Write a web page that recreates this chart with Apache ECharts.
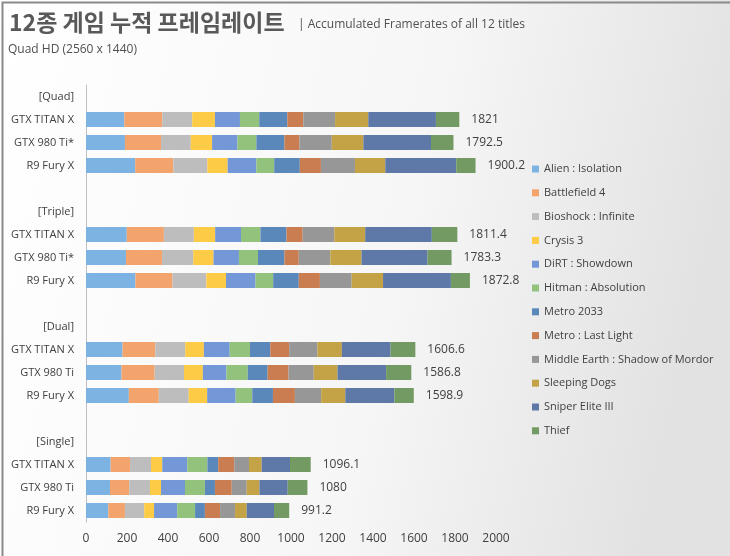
<!DOCTYPE html>
<html>
<head>
<meta charset="utf-8">
<script src="https://cdn.jsdelivr.net/npm/echarts@6/dist/echarts.min.js"></script>
<style>
html,body{margin:0;padding:0;}
#chart{width:730px;height:556px;}
</style>
</head>
<body>
<div id="chart"></div>
<script>
// ---- Data ----
var groups = ['[Quad]', '[Triple]', '[Dual]', '[Single]'];
var cardsByGroup = [
  ['GTX TITAN X', 'GTX 980 Ti*', 'R9 Fury X'],
  ['GTX TITAN X', 'GTX 980 Ti*', 'R9 Fury X'],
  ['GTX TITAN X', 'GTX 980 Ti', 'R9 Fury X'],
  ['GTX TITAN X', 'GTX 980 Ti', 'R9 Fury X']
];
var games = ['Alien : Isolation', 'Battlefield 4', 'Bioshock : Infinite', 'Crysis 3', 'DiRT : Showdown',
  'Hitman : Absolution', 'Metro 2033', 'Metro : Last Light', 'Middle Earth : Shadow of Mordor',
  'Sleeping Dogs', 'Sniper Elite III', 'Thief'];
// order of bars: Quad(TITAN X, 980 Ti*, Fury X), Triple(...), Dual(...), Single(...)
var alien     = [187, 190, 240, 199, 195, 241, 178, 173, 209, 120, 117, 109];
var bf4       = [185, 176, 186, 181, 176, 181, 160, 162, 146, 95, 94, 81];
var bioshock  = [146, 145, 166, 146, 152, 165, 146, 143, 146, 102, 101, 94];
var crysis3   = [111, 104, 99, 104, 99, 96, 91, 92, 90, 55, 54, 48];
var dirt      = [122, 124, 140, 126, 124, 144, 126, 115, 139, 122, 117, 113];
var hitman    = [94, 92, 87, 95, 93, 86, 99, 104, 81, 98, 97, 87];
var metro2033 = [137, 137, 125, 127, 129, 125, 99, 97, 101, 53, 49, 48];
var metroLL   = [78, 73, 103, 79, 70, 103, 92, 102, 107, 78, 82, 74];
var mordor    = [155, 158, 166, 154, 154, 155, 138, 123, 128, 72, 73, 73];
var sleeping  = [162, 154, 148, 151, 152, 153, 119, 116, 118, 62, 62, 57];
var sniper    = [330, 330, 346, 325, 322, 331, 238, 237, 239, 138, 138, 133];
var thief     = [114, 109.5, 94.2, 124.4, 117.3, 92.8, 120.6, 122.8, 94.9, 101.1, 96, 74.2];
var xTicks = [0, 200, 400, 600, 800, 1000, 1200, 1400, 1600, 1800, 2000];

var gameValues = [alien, bf4, bioshock, crysis3, dirt, hitman, metro2033, metroLL, mordor, sleeping, sniper, thief];
var colors = ['#7DB3E3', '#F3A46C', '#BDBDBD', '#FDCB45', '#7397D7', '#92C27C', '#5A88BB', '#C97D50',
  '#979797', '#C4A346', '#5E78A8', '#739A62'];

// ---- Build category rows (header, 3 bars, blank) ----
var rows = [];
var rowBarIndex = []; // index into value arrays or -1
var bi = 0;
groups.forEach(function (g, gi) {
  rows.push(g); rowBarIndex.push(-1);
  cardsByGroup[gi].forEach(function (c) { rows.push(c); rowBarIndex.push(bi++); });
  if (gi < groups.length - 1) { rows.push(''); rowBarIndex.push(-1); }
});
var totals = [];
for (var k = 0; k < bi; k++) {
  var s = 0;
  gameValues.forEach(function (arr) { s += arr[k]; });
  totals.push(Math.round(s * 10) / 10);
}

var series = games.map(function (name, gi) {
  var arr = gameValues[gi];
  var ser = {
    name: name,
    type: 'bar',
    stack: 'total',
    barWidth: 15,
    itemStyle: { color: colors[gi] },
    data: rowBarIndex.map(function (ix) { return ix < 0 ? '-' : arr[ix]; })
  };
  if (gi === games.length - 1) {
    ser.label = {
      show: true,
      position: 'right',
      distance: 12,
      color: '#404040',
      fontSize: 12,
      fontFamily: 'Open Sans',
      formatter: function (p) {
        var ix = rowBarIndex[p.dataIndex];
        return ix < 0 ? '' : String(totals[ix]);
      }
    };
  }
  return ser;
});

var chart = echarts.init(document.getElementById('chart'));
chart.setOption({
  animation: false,
  backgroundColor: {
    type: 'linear', x: 0, y: 0, x2: 1, y2: 0.3,
    colorStops: [{ offset: 0, color: '#ffffff' }, { offset: 0.6, color: '#f6f6f6' }, { offset: 1, color: '#e2e2e2' }]
  },
  color: colors,
  title: [
    { text: '12종 게임 누적 프레임레이트', left: 9, top: 11, padding: 0,
      textStyle: { fontFamily: 'Noto Sans CJK KR', fontWeight: 'bold', fontSize: 23, color: '#595959' } },
    { text: '| Accumulated Framerates of all 12 titles', left: 298, top: 19, padding: 0,
      textStyle: { fontFamily: 'Open Sans', fontWeight: 'normal', fontSize: 12, color: '#505050' } },
    { text: 'Quad HD (2560 x 1440)', left: 8, top: 44, padding: 0,
      textStyle: { fontFamily: 'Open Sans', fontWeight: 'normal', fontSize: 12, color: '#505050' } }
  ],
  graphic: [
    { type: 'rect', left: 0, top: 0, shape: { width: 729, height: 555 },
      style: { fill: 'none', stroke: '#8a8a8a', lineWidth: 2 }, silent: true }
  ],
  legend: {
    orient: 'vertical',
    left: 532,
    top: 162,
    padding: 0,
    itemWidth: 7,
    itemHeight: 7,
    itemGap: 9.8,
    icon: 'rect',
    data: games,
    textStyle: { fontFamily: 'Open Sans', fontSize: 11, color: '#404040', lineHeight: 14 }
  },
  grid: { left: 86, right: 234, top: 85, bottom: 34, containLabel: false },
  xAxis: {
    type: 'value',
    min: xTicks[0],
    max: xTicks[xTicks.length - 1],
    interval: xTicks[1] - xTicks[0],
    axisLine: { show: false },
    axisTick: { show: false },
    splitLine: { show: false },
    axisLabel: { color: '#404040', fontSize: 12, fontFamily: 'Open Sans', margin: 11,
      formatter: function (v) { return String(v); } }
  },
  yAxis: {
    type: 'category',
    inverse: true,
    data: rows,
    axisLine: { show: true, lineStyle: { color: '#bfbfbf', width: 1 } },
    axisTick: { show: false },
    axisLabel: { color: '#404040', fontSize: 11, fontFamily: 'Open Sans', margin: 12, interval: 0 }
  },
  series: series
});
</script>
</body>
</html>
